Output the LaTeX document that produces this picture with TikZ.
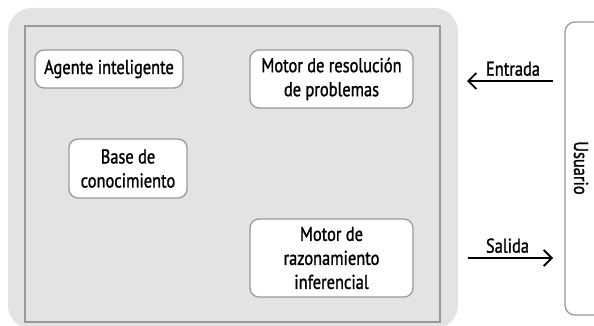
\documentclass[tikz,border=0pt]{standalone}
\usepackage{fontspec}
\setmainfont[FakeStretch=0.82,FakeBold=1.2]{PT Sans}
\usepackage{tikz}
\usepackage{xcolor}
\usetikzlibrary{arrows.meta}
\definecolor{panelgrey}{HTML}{E1E4E3}
\definecolor{linegrey}{HTML}{989A9A}
\tikzstyle{box} = [rectangle, rounded corners=9pt, draw=linegrey, line width=1.3pt, fill=white, align=center, font=\fontsize{20}{24}\selectfont, inner sep=0pt]
\tikzstyle{arrow} = [line width=1.5pt, -{Straight Barb[length=8pt,width=16pt,line width=1.8pt]}]
\tikzstyle{lbl} = [font=\fontsize{20}{24}\selectfont]

\begin{document}
\begin{tikzpicture}[x=1pt,y=-1pt]
                    \useasboundingbox (0,0) rectangle (594,326);
                    \fill[panelgrey, rounded corners=24pt] (8,8) rectangle (458,329);
                    \draw[linegrey, line width=1.3pt] (25,26) rectangle (440,322);

                    \node[box, minimum width=148pt, minimum height=38pt] (agente) at (109,69) {Agente inteligente};
                    \node[box, minimum width=163pt, minimum height=58pt] (resolucion) at (331.5,79) {Motor de resolución\\de problemas};
                    \node[box, minimum width=118pt, minimum height=59pt] (base) at (128,168.5) {Base de\\conocimiento};
                    \node[box, minimum width=163pt, minimum height=78pt] (razonamiento) at (331.5,258) {Motor de\\razonamiento\\inferencial};

                    \draw[linegrey, line width=1.3pt, rounded corners=10pt] (600,22) -- (565,22) -- (565,315) -- (600,315);
                    \node[lbl, rotate=-90] (usuario) at (581,168) {Usuario};

                    \coordinate (entA) at (553,81);
                    \coordinate (entB) at (467,81);
                    \coordinate (salA) at (468,258);
                    \coordinate (salB) at (553,258);
                    \draw[arrow] (entA) -- node[lbl, above=1pt, xshift=3pt] (entrada) {Entrada} (entB);
                    \draw[arrow] (salA) -- node[lbl, above=1pt, xshift=-3pt] (salida) {Salida} (salB);
                \end{tikzpicture}
\end{document}
